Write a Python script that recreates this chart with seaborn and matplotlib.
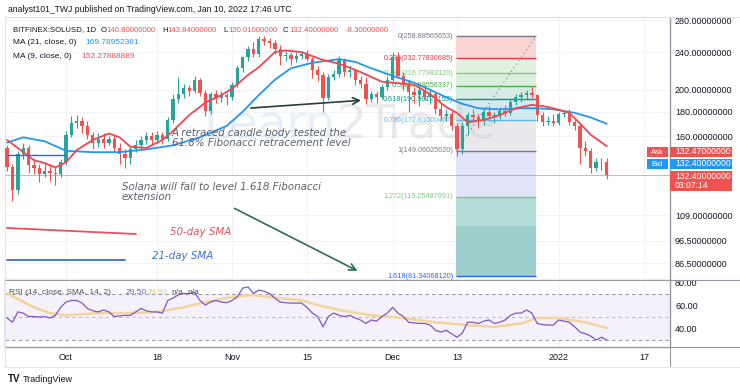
import numpy as np
import pandas as pd
import matplotlib
matplotlib.use("Agg")
import matplotlib.pyplot as plt
import matplotlib.dates as mdates
from matplotlib.lines import Line2D
from matplotlib.patches import Rectangle
from matplotlib.ticker import NullLocator
import seaborn as sns

sns.set_theme(style="white")
plt.rcParams['font.family'] = ['Liberation Sans', 'DejaVu Sans']

# ─── SOL/USD daily candles, 20 Sep 2021 → 10 Jan 2022 ─────────────────────
dates = pd.date_range("2021-09-20", "2022-01-10", freq="D")

opens = [151, 138, 123, 147, 151, 139, 137, 133, 135, 134, 133,                    # Sep
         141, 161, 170, 172, 168, 161, 155, 158, 155, 158, 151, 147, 144, 150, 153,  # Oct
         157, 160, 157, 161, 158, 173, 191, 196, 202, 199, 210, 197, 181, 196, 192, 195,
         193, 205, 222, 234, 244, 238, 256, 253, 251, 244, 235, 237, 232, 236, 238,  # Nov
         232, 220, 215, 192, 213, 216, 231, 218, 220, 210, 206, 191, 196, 193, 203,
         210, 234, 214, 205, 198, 195, 200, 193, 196, 182, 176, 178, 168, 150, 168,  # Dec
         177, 175, 172, 180, 176, 177, 181, 179, 189, 193, 195, 197, 195, 177, 171, 172,
         170, 178, 179, 171, 168, 151, 149, 137, 141, 140.8]                          # Jan
highs = [153, 140, 149, 155, 153, 143, 140, 141, 140, 138, 143,
         164, 176, 177, 175, 172, 163, 162, 162, 160, 161, 155, 150, 152, 157, 160,
         163, 163, 164, 163, 175, 196, 213, 206, 205, 214, 212, 200, 198, 200, 199, 197,
         208, 226, 236, 247, 252, 260, 259, 257, 254, 248, 241, 240, 240, 241, 243,
         234, 224, 218, 216, 220, 235, 233, 225, 222, 214, 213, 199, 199, 206, 214,
         240, 240, 218, 210, 203, 204, 205, 200, 198, 188, 182, 181, 170, 171, 180,
         182, 178, 183, 185, 180, 184, 186, 192, 196, 198, 200, 204, 196, 180, 176, 178,
         180, 181, 182, 174, 170, 156, 151, 144, 144, 143.84]
lows = [135, 117, 121, 143, 134, 133, 128, 131, 129, 126, 131,
        139, 159, 166, 162, 158, 150, 152, 151, 153, 148, 140, 137, 140, 148, 150,
        154, 154, 155, 154, 156, 170, 188, 192, 194, 197, 194, 176, 178, 188, 189, 186,
        190, 203, 218, 230, 234, 234, 249, 245, 238, 226, 230, 226, 229, 232, 230,
        212, 209, 180, 190, 210, 213, 214, 213, 205, 202, 187, 189, 188, 191, 200,
        208, 212, 200, 180, 188, 185, 190, 187, 178, 173, 172, 165, 145, 147, 161,
        171, 166, 169, 174, 170, 174, 176, 177, 186, 189, 190, 192, 172, 168, 169, 168,
        169, 175, 169, 165, 140, 145, 134, 135, 136, 130.01]
closes = [138, 123, 147, 151, 139, 137, 133, 135, 134, 133, 141,
          161, 170, 172, 168, 161, 155, 158, 155, 158, 151, 147, 144, 150, 153, 157,
          160, 157, 161, 158, 173, 191, 196, 202, 199, 210, 197, 181, 196, 192, 195, 193,
          205, 222, 234, 244, 238, 256, 253, 251, 244, 235, 237, 232, 236, 238, 232,
          220, 215, 192, 213, 216, 231, 218, 220, 210, 206, 191, 196, 193, 203, 210,
          234, 214, 205, 198, 195, 200, 193, 196, 182, 176, 178, 168, 150, 168, 177,
          175, 172, 180, 176, 177, 181, 179, 189, 193, 195, 197, 195, 177, 171, 172, 170,
          178, 179, 171, 168, 151, 149, 137, 141, 140.8, 132.4]

# MA (9) and MA (21)
ma9_dates = ["2021-09-20", "2021-09-23", "2021-09-25", "2021-09-27", "2021-09-29", "2021-10-01",
             "2021-10-03", "2021-10-06", "2021-10-09", "2021-10-11", "2021-10-13", "2021-10-16",
             "2021-10-19", "2021-10-21", "2021-10-24", "2021-10-27", "2021-10-30", "2021-11-01",
             "2021-11-04", "2021-11-06", "2021-11-09", "2021-11-11", "2021-11-14", "2021-11-18",
             "2021-11-21", "2021-11-25", "2021-11-29", "2021-12-01", "2021-12-05", "2021-12-08",
             "2021-12-11", "2021-12-13", "2021-12-15", "2021-12-18", "2021-12-21", "2021-12-24",
             "2021-12-27", "2021-12-29", "2021-12-31", "2022-01-03", "2022-01-05", "2022-01-07",
             "2022-01-10"]
ma9_vals = [157, 148, 142.4, 140.4, 137.5, 141, 149.5, 157, 162, 159, 152, 151, 157, 164, 177,
            188, 195, 201, 215, 223, 240, 242, 240, 231, 227, 218, 208, 207, 205, 196, 184, 179,
            171, 173, 177, 183, 186, 185, 183, 179, 170, 161, 152.28]

ma21_dates = ["2021-09-20", "2021-09-23", "2021-09-27", "2021-10-01", "2021-10-06", "2021-10-11",
              "2021-10-16", "2021-10-21", "2021-10-26", "2021-10-31", "2021-11-03", "2021-11-06",
              "2021-11-09", "2021-11-12", "2021-11-16", "2021-11-21", "2021-11-24", "2021-11-27",
              "2021-12-01", "2021-12-05", "2021-12-08", "2021-12-11", "2021-12-14", "2021-12-17",
              "2021-12-21", "2021-12-25", "2021-12-28", "2021-12-31", "2022-01-04", "2022-01-07",
              "2022-01-10"]
ma21_vals = [155, 159, 156, 149, 148, 148, 150, 153, 159, 168, 180, 195, 210, 222, 228, 232,
             229, 222, 214, 207, 200, 193, 187, 183, 182, 183, 183, 182, 179, 175, 169.79]

# RSI (14) daily values and its SMA
rsi_vals = [48.7, 45, 54, 53, 50, 50, 49.5, 50, 48.7, 51, 58,
            62.6, 64, 64, 61.7, 57, 55, 54, 55.7, 54, 50, 50.5, 51, 51, 54, 57,
            55, 54, 54, 53, 64, 66, 69, 70, 70, 71, 64, 60, 62.6, 64, 62.6, 62,
            64, 67, 74.8, 75.7, 70, 73, 72, 70, 66, 62.6, 62, 61.7, 61.7, 61.7, 58,
            53, 50, 41, 50, 53, 51, 50, 51, 48.7, 47, 44, 47, 46, 50, 53,
            58, 53, 50, 45, 44.5, 44, 44, 42.6, 38, 36.5, 38, 35, 32, 35.6, 45,
            45, 44, 46, 47, 44, 45, 47, 51, 53, 53, 55.7, 53, 44, 43, 42.6, 42.6,
            47, 46, 45, 41, 36.5, 35, 33, 29.6, 32, 29.5]
rsi_sma_dates = ["2021-09-20", "2021-09-25", "2021-09-28", "2021-10-01", "2021-10-07", "2021-10-13",
                 "2021-10-18", "2021-10-23", "2021-10-27", "2021-11-01", "2021-11-05", "2021-11-08",
                 "2021-11-14", "2021-11-17", "2021-11-21", "2021-11-27", "2021-12-03", "2021-12-09",
                 "2021-12-15", "2021-12-20", "2021-12-25", "2021-12-28", "2022-01-01", "2022-01-06",
                 "2022-01-10"]
rsi_sma_vals = [70, 58, 53, 51, 53, 53, 54, 58, 62.6, 67, 68.7, 67, 64, 60, 55.7, 51, 48.7, 45,
                42.6, 41, 44, 48.7, 48.7, 45, 40]

# Fibonacci tool
fib_start, fib_end = "2021-12-12 20:00", "2021-12-27 18:00"
fib_ratios = ["0", "0.236", "0.382", "0.5", "0.618", "0.786", "1", "1.272", "1.414", "1.618"]
fib_prices = [258.88565653, 232.77830685, 216.77983120, 203.88556337, 190.99129153,
              172.61000467, 149.06025620, 119.25487691, 103.62, 81.34068120]
fib_shown = [True, True, True, True, True, True, True, True, False, True]
fib_line_colors = ['#787b86', '#f23645', '#81c784', '#4caf50', '#089981', '#64b5f6',
                   '#787b86', '#81c784', '#089981', '#2962ff']
fib_band_colors = ['#fad3d3', '#e2f2e1', '#dcefdc', '#d5ece2', '#d5e9f0', '#e8e9ec',
                   '#e2e5fa', '#b3dcd8', '#9dd0cc']

price_ticks = [86.5, 96.5, 109, 160, 180, 200, 240, 280]
rsi_ticks = [40, 60, 80]
tick_dates = ["2021-10-01", "2021-10-18", "2021-11-01", "2021-11-15",
              "2021-12-01", "2021-12-13", "2022-01-01", "2022-01-17"]
tick_labels = ["Oct", "18", "Nov", "15", "Dec", "13", "2022", "17"]

UP, DOWN = '#26a69a', '#ef5350'
W, H = 740, 392


def fx(px):
    return px / W


def fy(py):
    return 1 - py / H


def dn(d):
    return mdates.date2num(pd.to_datetime(d))


fig = plt.figure(figsize=(7.4, 3.92), dpi=100)
ax = fig.add_axes([fx(5), fy(280), fx(670) - fx(5), fy(17) - fy(280)])
axr = fig.add_axes([fx(5), fy(347), fx(670) - fx(5), fy(281) - fy(347)])

x = mdates.date2num(dates)
o, h, l, c = map(np.asarray, (opens, highs, lows, closes))
cols = np.where(c >= o, UP, DOWN)
x0 = dn("2021-10-01")

# ─── price pane ─────────────────────────────────────────────────────────────
ax.set_yscale('log')
ax.set_ylim(79.8, 284.4)
ax.set_xlim(x0 - 11.4, x0 + 112.8)

# Fibonacci bands, lines and labels
xl, xr = dn(fib_start), dn(fib_end)
for i in range(len(fib_prices) - 1):
    ax.fill_between([xl, xr], fib_prices[i + 1], fib_prices[i],
                    color=fib_band_colors[i], lw=0, zorder=1)
for name, p, col, show in zip(fib_ratios, fib_prices, fib_line_colors, fib_shown):
    if not show:
        continue
    ax.hlines(p, xl, xr, color=col, lw=1.0, zorder=2)
    ax.annotate(f"{name}({p:.8f})", xy=(xl, p), xytext=(-2, 0), textcoords='offset points',
                ha='right', va='center', fontsize=5.2, color=col, zorder=2)
ax.plot([xl, xr], [fib_prices[6], fib_prices[0]], ls=(0, (1, 2.5)), color='#8a8e99', lw=0.9, zorder=2)

# watermark
ax.text(fx(336), fy(138), "Learn", transform=fig.transFigure, ha='right', va='baseline',
        fontsize=34, color='#c3daf0', alpha=0.4, zorder=1, family='DejaVu Sans')
ax.text(fx(336), fy(138), "2Trade", transform=fig.transFigure, ha='left', va='baseline',
        fontsize=34, color='#c4c4c4', alpha=0.35, zorder=1, family='DejaVu Sans')

# candles
ax.vlines(x, l, h, color=cols, lw=0.8, zorder=4)
ax.bar(x, np.maximum(np.abs(c - o), 0.5), bottom=np.minimum(o, c), width=0.62,
       color=cols, lw=0, zorder=5)

# moving averages
sns.lineplot(x=dn(ma21_dates), y=ma21_vals, ax=ax, color='#2196f3', lw=1.3,
             estimator=None, sort=False, zorder=6)
sns.lineplot(x=dn(ma9_dates), y=ma9_vals, ax=ax, color='#f0464f', lw=1.3,
             estimator=None, sort=False, zorder=6)

# current price line and drawn horizontal
ax.axhline(closes[-1], color=DOWN, lw=0.6, alpha=0.6, zorder=3)
ax.hlines(146, x0 - 11, x0, color='#2962ff', lw=1.0, zorder=6)

ax.yaxis.tick_right()
ax.yaxis.set_minor_locator(NullLocator())
ax.set_yticks(price_ticks)
ax.set_yticklabels([f"{v:.8f}" for v in price_ticks])
ax.set_xticks(dn(tick_dates))
ax.tick_params(axis='y', length=0, pad=3.6, labelsize=6.5, labelcolor='#131722')
ax.tick_params(axis='x', length=0, labelbottom=False)
ax.grid(True, color='#f0f3fa', lw=0.8)
ax.set_xlabel('')
ax.set_ylabel('')
for side in ('top', 'left'):
    ax.spines[side].set_color('#e0e3eb')
    ax.spines[side].set_linewidth(0.8)
for side in ('right', 'bottom'):
    ax.spines[side].set_color('#9598a1')
    ax.spines[side].set_linewidth(1.0)

# ─── RSI pane ──────────────────────────────────────────────────────────────
axr.set_xlim(ax.get_xlim())
axr.set_ylim(23.5, 80.9)
axr.axhspan(30, 70, color='#7e57c2', alpha=0.08, lw=0, zorder=0)
for lvl, a in ((70, 1.0), (50, 0.6), (30, 1.0)):
    axr.axhline(lvl, color='#9598a1', lw=0.8, ls=(0, (3, 3)), alpha=a, zorder=1)
sns.lineplot(x=dn(rsi_sma_dates), y=rsi_sma_vals, ax=axr, color='#f3d49b', lw=1.8,
             estimator=None, sort=False, zorder=2)
sns.lineplot(x=x, y=rsi_vals, ax=axr, color='#7e57c2', lw=0.9,
             estimator=None, sort=False, zorder=3)
axr.yaxis.tick_right()
axr.set_yticks(rsi_ticks)
axr.set_yticklabels([f"{v:.2f}" for v in rsi_ticks])
axr.set_xticks(dn(tick_dates))
axr.set_xticklabels(tick_labels)
axr.tick_params(axis='y', length=0, pad=3.6, labelsize=6.5, labelcolor='#131722')
axr.tick_params(axis='x', length=0, pad=4, labelsize=6.5, labelcolor='#131722')
axr.grid(True, axis='x', color='#f0f3fa', lw=0.8)
axr.set_xlabel('')
axr.set_ylabel('')
axr.spines['top'].set_visible(False)
axr.spines['left'].set_color('#e0e3eb')
for side in ('right', 'bottom'):
    axr.spines[side].set_color('#9598a1')
    axr.spines[side].set_linewidth(1.0)

# ─── frame lines outside the panes ─────────────────────────────────────────
for (xa, ya, xb, yb, col) in [(5, 17, 740, 17, '#e0e3eb'), (670, 280, 740, 280, '#9598a1'),
                              (670, 347, 740, 347, '#9598a1'), (670, 347, 670, 367, '#9598a1'),
                              (5, 347, 5, 367, '#e0e3eb'), (5, 367, 740, 367, '#e0e3eb')]:
    fig.add_artist(Line2D([fx(xa), fx(xb)], [fy(ya), fy(yb)], color=col, lw=0.8))

# ─── header texts ──────────────────────────────────────────────────────────
fig.text(fx(8), fy(10), "analyst101_TWJ published on TradingView.com, Jan 10, 2022 17:46 UTC",
         fontsize=6.2, color='#131722', va='center')
hdr = [(13, "BITFINEX:SOLUSD, 1D", '#131722'), (101, "O", '#131722'), (106, "140.80000000", DOWN),
       (162, "H", '#131722'), (167, "143.84000000", DOWN), (223, "L", '#131722'),
       (228, "130.01000000", DOWN), (283, "C", '#131722'), (289, "132.40000000", DOWN),
       (346, "-8.30000000", DOWN)]
for px, txt, col in hdr:
    fig.text(fx(px), fy(30), txt, fontsize=5.6, color=col, va='center')
fig.text(fx(13), fy(43), "MA (21, close, 0)", fontsize=6.0, color='#131722', va='center')
fig.text(fx(85), fy(43), "169.78952381", fontsize=6.0, color='#2196f3', va='center')
fig.text(fx(13), fy(56), "MA (9, close, 0)", fontsize=6.0, color='#131722', va='center')
fig.text(fx(81), fy(56), "152.27888889", fontsize=6.0, color=DOWN, va='center')

rsi_hdr = [(9, "RSI (14, close, SMA, 14, 2)", '#4a4d57'), (126, "29.50", '#7e57c2'),
           (147, "39.93", '#f0c36d'), (171, "n/a", '#4a4d57'), (187, "n/a", '#4a4d57')]
for px, txt, col in rsi_hdr:
    fig.text(fx(px), fy(293), txt, fontsize=6.0, color=col, va='center')

# ─── price boxes on the right ──────────────────────────────────────────────
def box(x1, y1, x2, y2, col):
    fig.add_artist(Rectangle((fx(x1), fy(y2)), fx(x2) - fx(x1), fy(y1) - fy(y2),
                             transform=fig.transFigure, color=col, lw=0))

box(647, 147, 668, 157, DOWN)
box(670, 147, 732, 157, DOWN)
box(647, 159, 668, 169, '#2196f3')
box(670, 159, 732, 169, '#2196f3')
box(670, 171, 732, 191, DOWN)
fig.text(fx(657), fy(152), "Ask", fontsize=5.6, color='white', ha='center', va='center')
fig.text(fx(675), fy(152), "132.47000000", fontsize=6.2, color='white', va='center')
fig.text(fx(657), fy(164), "Bid", fontsize=5.6, color='white', ha='center', va='center')
fig.text(fx(675), fy(164), "132.40000000", fontsize=6.2, color='white', va='center')
fig.text(fx(675), fy(176), "132.40000000", fontsize=6.2, color='white', va='center')
fig.text(fx(675), fy(186), "03:07:14", fontsize=6.2, color='white', va='center')

# ─── analyst annotations ───────────────────────────────────────────────────
ann = dict(fontsize=7.4, style='italic', family='DejaVu Sans', va='center')
fig.text(fx(172), fy(138), "A retraced candle body tested the\n61.8% Fibonacci retracement level",
         color='#5d606b', linespacing=1.05, **ann)
fig.text(fx(122), fy(192), "Solana will fall to level 1.618 Fibonacci\nextension",
         color='#5d606b', linespacing=1.05, **ann)
fig.text(fx(170), fy(232), "50-day SMA", color='#e8505b', **ann)
fig.text(fx(152), fy(256), "21-day SMA", color='#3f6fd1', **ann)
fig.add_artist(Line2D([fx(7), fx(136)], [fy(228), fy(234)], color='#e8505b', lw=1.3))
fig.add_artist(Line2D([fx(7), fx(125)], [fy(260), fy(260)], color='#3f6fd1', lw=1.3))

ax.annotate('', xy=(x0 + 55.6, 190.3), xytext=(x0 + 34.0, 183),
            arrowprops=dict(arrowstyle='->', color='#26403b', lw=1.2), zorder=7)
ax.annotate('', xy=(x0 + 54.9, 82.9), xytext=(x0 + 31.0, 113.5),
            arrowprops=dict(arrowstyle='->', color='#2d6b5c', lw=1.2), zorder=7)

# ─── footer logo ───────────────────────────────────────────────────────────
fig.text(fx(8), fy(379), "TV", fontsize=7, weight='bold', color='#131722', va='center')
fig.text(fx(23), fy(379), "TradingView", fontsize=6.5, color='#131722', va='center')

fig.savefig("out.png", dpi=100)
